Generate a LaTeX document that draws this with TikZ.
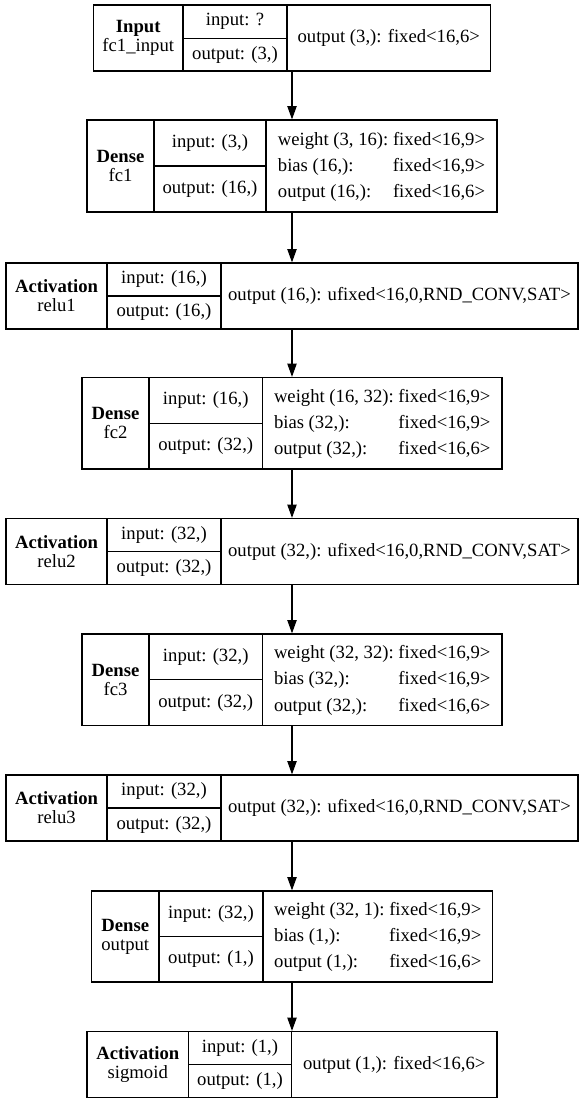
\documentclass[tikz,border=0pt]{standalone}
\usepackage{fontspec}
\setmainfont{Liberation Serif}
\usetikzlibrary{arrows.meta}
\def\arraystretch{1.15}

\begin{document}
\begin{tikzpicture}[x=0.75pt,y=-0.75pt,line width=0.9pt,inner sep=0pt,
	font=\fontsize{14}{17}\selectfont,
	lyr/.style args={#1x#2}{draw,minimum width=#1*0.75pt,minimum height=#2*0.75pt},
	lbl/.style={align=center,font=\fontsize{14}{14.25}\selectfont},
	flow/.style={-{Triangle[length=10pt,width=7pt]}}]
				\useasboundingbox (0,0) rectangle (584,1104);
				
				\node[lyr=397x66] (input) at (292,38) {};
				\draw (183,5) -- (183,71) (287,5) -- (287,71) (183,38.5) -- (287,38.5);
				\node[lbl] (input-name) at (138.25,38) {\textbf{Input}\\fc1\_input};
				\node (input-in) at (235,21.75) {input: ?};
				\node (input-out) at (235,54.75) {output: (3,)};
				\node (input-info) at (388.75,38) {output (3,): fixed<16,6>};
				
				\node[lyr=410x92] (fc1) at (292,166) {};
				\draw (154,120) -- (154,212) (266,120) -- (266,212) (154,166) -- (266,166);
				\node[lbl] (fc1-name) at (120.5,166) {\textbf{Dense}\\fc1};
				\node (fc1-in) at (210,143) {input: (3,)};
				\node (fc1-out) at (210,189) {output: (16,)};
				\node (fc1-info) at (381.5,166) {\begin{tabular}{@{}l@{\ }l@{}}weight (3, 16): & fixed<16,9>\\ bias (16,): & fixed<16,9>\\ output (16,): & fixed<16,6>\end{tabular}};
				
				\node[lyr=572x66] (relu1) at (292,296) {};
				\draw (107,263) -- (107,329) (221,263) -- (221,329) (107,296) -- (221,296);
				\node[lbl] (relu1-name) at (56.5,296) {\textbf{Activation}\\relu1};
				\node (relu1-in) at (164,279.5) {input: (16,)};
				\node (relu1-out) at (164,312.5) {output: (16,)};
				\node (relu1-info) at (399.5,296) {output (16,): ufixed<16,0,RND\_CONV,SAT>};
				
				\node[lyr=420x91.5] (fc2) at (292,423.25) {};
				\draw (149,377.5) -- (149,469) (262.5,377.5) -- (262.5,469) (149,423.25) -- (262.5,423.25);
				\node[lbl] (fc2-name) at (115.5,423.25) {\textbf{Dense}\\fc2};
				\node (fc2-in) at (205.75,400.4) {input: (16,)};
				\node (fc2-out) at (205.75,446.1) {output: (32,)};
				\node (fc2-info) at (382.25,423.25) {\begin{tabular}{@{}l@{\ }l@{}}weight (16, 32): & fixed<16,9>\\ bias (32,): & fixed<16,9>\\ output (32,): & fixed<16,6>\end{tabular}};
				
				\node[lyr=572x66] (relu2) at (292,551.5) {};
				\draw (107,518.5) -- (107,584.5) (221,518.5) -- (221,584.5) (107,551.5) -- (221,551.5);
				\node[lbl] (relu2-name) at (56.5,551.5) {\textbf{Activation}\\relu2};
				\node (relu2-in) at (164,535) {input: (32,)};
				\node (relu2-out) at (164,568) {output: (32,)};
				\node (relu2-info) at (399.5,551.5) {output (32,): ufixed<16,0,RND\_CONV,SAT>};
				
				\node[lyr=420x91.5] (fc3) at (292,679.75) {};
				\draw (149,634) -- (149,725.5) (262.5,634) -- (262.5,725.5) (149,679.75) -- (262.5,679.75);
				\node[lbl] (fc3-name) at (115.5,679.75) {\textbf{Dense}\\fc3};
				\node (fc3-in) at (205.75,656.9) {input: (32,)};
				\node (fc3-out) at (205.75,702.6) {output: (32,)};
				\node (fc3-info) at (382.25,679.75) {\begin{tabular}{@{}l@{\ }l@{}}weight (32, 32): & fixed<16,9>\\ bias (32,): & fixed<16,9>\\ output (32,): & fixed<16,6>\end{tabular}};
				
				\node[lyr=572x66] (relu3) at (292,808) {};
				\draw (107,775) -- (107,841) (221,775) -- (221,841) (107,808) -- (221,808);
				\node[lbl] (relu3-name) at (56.5,808) {\textbf{Activation}\\relu3};
				\node (relu3-in) at (164,791.5) {input: (32,)};
				\node (relu3-out) at (164,824.5) {output: (32,)};
				\node (relu3-info) at (399.5,808) {output (32,): ufixed<16,0,RND\_CONV,SAT>};
				
				\node[lyr=401x91] (output) at (292,936.5) {};
				\draw (159,891) -- (159,982) (263,891) -- (263,982) (159,936.5) -- (263,936.5);
				\node[lbl] (output-name) at (125.25,936.5) {\textbf{Dense}\\output};
				\node (output-in) at (211,913.75) {input: (32,)};
				\node (output-out) at (211,959.25) {output: (1,)};
				\node (output-info) at (377.75,936.5) {\begin{tabular}{@{}l@{\ }l@{}}weight (32, 1): & fixed<16,9>\\ bias (1,): & fixed<16,9>\\ output (1,): & fixed<16,6>\end{tabular}};
				
				\node[lyr=410x66] (sigmoid) at (292,1064.5) {};
				\draw (188.5,1031.5) -- (188.5,1097.5) (291.5,1031.5) -- (291.5,1097.5) (188.5,1064.5) -- (291.5,1064.5);
				\node[lbl] (sigmoid-name) at (137.75,1064.5) {\textbf{Activation}\\sigmoid};
				\node (sigmoid-in) at (240,1048) {input: (1,)};
				\node (sigmoid-out) at (240,1081) {output: (1,)};
				\node (sigmoid-info) at (394.25,1064.5) {output (1,): fixed<16,6>};
				
				\draw[flow] (input) -- (fc1);
				\draw[flow] (fc1) -- (relu1);
				\draw[flow] (relu1) -- (fc2);
				\draw[flow] (fc2) -- (relu2);
				\draw[flow] (relu2) -- (fc3);
				\draw[flow] (fc3) -- (relu3);
				\draw[flow] (relu3) -- (output);
				\draw[flow] (output) -- (sigmoid);
			\end{tikzpicture}
\end{document}
